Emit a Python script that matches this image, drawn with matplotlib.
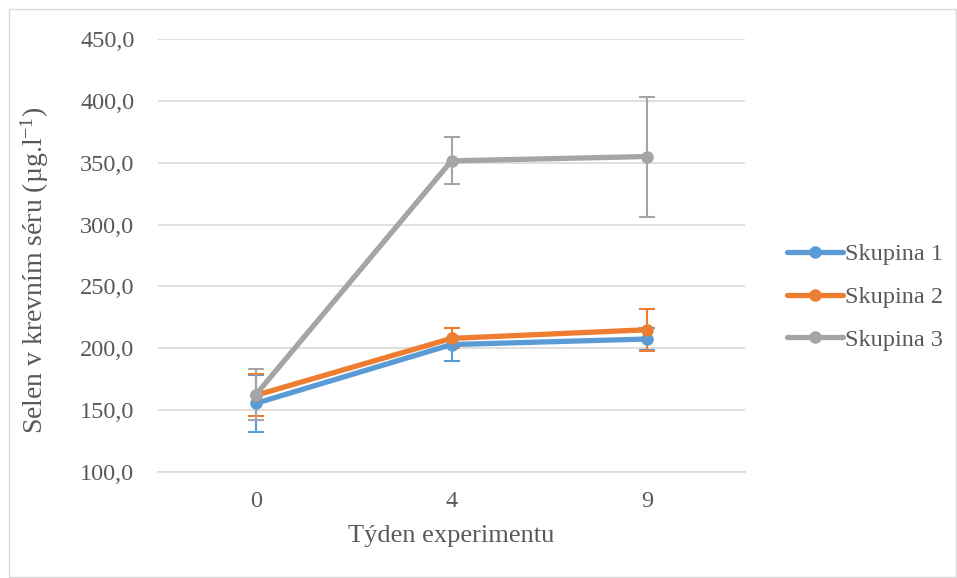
import matplotlib
matplotlib.use("Agg")
import matplotlib.pyplot as plt
from matplotlib.lines import Line2D
import numpy as np

weeks = ["0", "4", "9"]
series_names = ["Skupina 1", "Skupina 2", "Skupina 3"]
sk1 = [155.5, 203.0, 207.5]
sk1_err = [23.0, 13.5, 9.0]
sk2 = [162.0, 208.0, 215.0]
sk2_err = [17.0, 8.0, 17.0]
sk3 = [162.5, 351.5, 355.0]
sk3_err = [20.5, 19.0, 48.5]
colors = ["#5B9BD5", "#ED7D31", "#A5A5A5"]
yticks = [100, 150, 200, 250, 300, 350, 400, 450]

plt.rcParams['font.family'] = ['Liberation Serif', 'DejaVu Serif']
plt.rcParams['mathtext.fontset'] = 'custom'
plt.rcParams['mathtext.rm'] = 'Liberation Serif'
plt.rcParams['mathtext.it'] = 'Liberation Serif:italic'

fig = plt.figure(figsize=(9.57, 5.78), dpi=100)
ax = fig.add_axes([158/957, 1 - 472/578, (745-158)/957, (472-39)/578])

x = np.arange(len(weeks))
handles = []
for vals, errs, c, name in zip([sk1, sk2, sk3], [sk1_err, sk2_err, sk3_err], colors, series_names):
    ax.errorbar(x, vals, yerr=errs, color=c, lw=3.8, marker='o', markersize=8,
                ecolor=c, elinewidth=1.5, capsize=6, capthick=1.5,
                solid_capstyle='round', zorder=3)
    handles.append(Line2D([], [], color=c, lw=3.8, marker='o', markersize=8,
                          solid_capstyle='round', label=name))

ax.set_xlim(-0.5, 2.5)
ax.set_ylim(100, 450)
ax.set_yticks(yticks)
ax.set_yticklabels([f"{v:.1f}".replace('.', ',') for v in yticks])
ax.set_xticks(x)
ax.set_xticklabels(weeks)
ax.grid(axis='y', color='#D9D9D9', lw=1.2)
ax.set_axisbelow(True)
for s in ['top', 'right', 'left']:
    ax.spines[s].set_visible(False)
ax.spines['bottom'].set_color('#D9D9D9')
ax.spines['bottom'].set_linewidth(1.2)
ax.tick_params(axis='both', length=0, colors='#595959', labelsize=17.5)
ax.tick_params(axis='y', pad=17)
ax.tick_params(axis='x', pad=14)

ax.set_xlabel("Týden experimentu", fontsize=19, color='#595959', labelpad=9)
ax.set_ylabel("Selen v krevním séru (µg.l$^{\\mathregular{-1}}$)", fontsize=20, color='#595959')
ax.yaxis.set_label_coords(-(158-51)/587, (472-270)/433)

leg = ax.legend(handles=handles, loc='center left', bbox_to_anchor=((787-158)/587, (472-297)/433),
                frameon=False, borderaxespad=0, borderpad=0,
                fontsize=17.5, handlelength=2.3, handletextpad=0.08, labelspacing=0.85)
for t in leg.get_texts():
    t.set_color('#595959')

# chart border
fig.patches.append(plt.Rectangle((9/957, 0.002), 1 - 10/957, 1 - 9/578 - 0.002,
                                 transform=fig.transFigure, fill=False,
                                 edgecolor='#D9D9D9', lw=1.0))

fig.savefig("out.png", dpi=100)
